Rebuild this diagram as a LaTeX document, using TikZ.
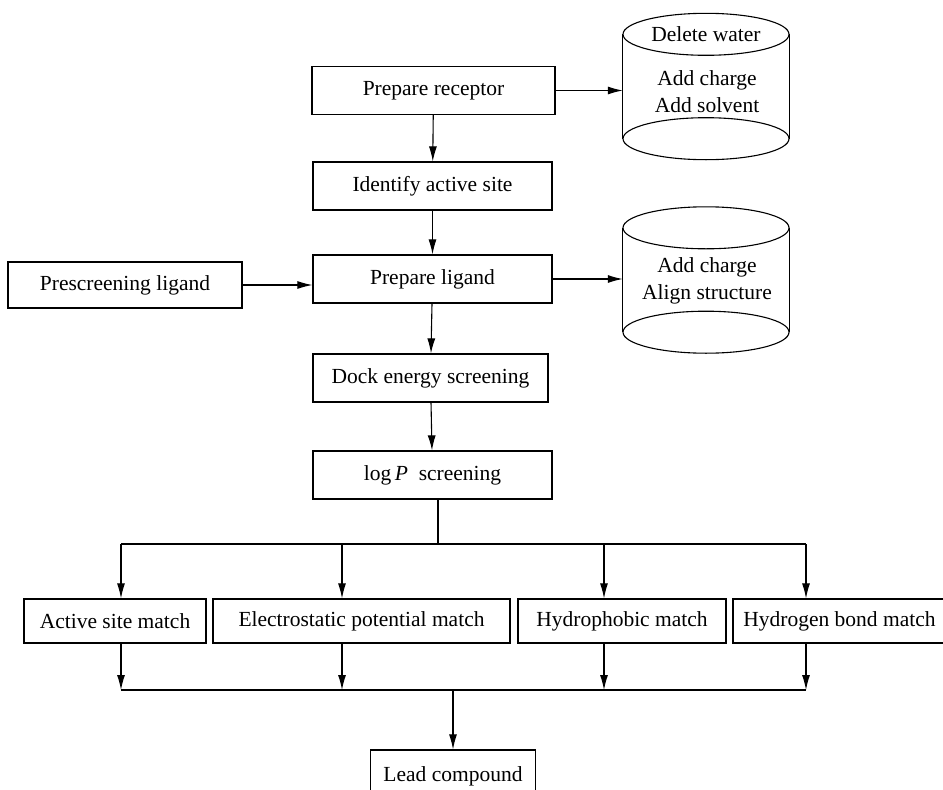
\documentclass[tikz,border=0pt]{standalone}
\usepackage{fontspec}
\setmainfont{Liberation Serif}
\usetikzlibrary{arrows.meta}
\begin{document}
\begin{tikzpicture}[x=1pt, y=-1pt,
      box/.style={draw, line width=1.2pt, minimum height=48pt, inner sep=4pt, font=\fontsize{21.5}{26}\selectfont},
      dbtxt/.style={align=center, inner sep=0pt, font=\fontsize{21.5}{27}\selectfont},
      flow/.style={line width=1.1pt, -{Latex[length=15pt, width=8pt]}},
      line/.style={line width=1.1pt}
    ]
    \useasboundingbox (0,0) rectangle (943,790);
    \clip (0,0) rectangle (943,790);
    \node[box, minimum width=243pt] (rec) at (433.5,90.5) {Prepare receptor};
    \node[box, minimum width=239pt] (site) at (432.5,186) {Identify active site};
    \node[box, minimum width=239pt] (lig) at (432.5,279) {Prepare ligand};
    \node[box, minimum width=234pt, minimum height=46pt] (pre) at (125,285) {Prescreening ligand};
    \node[box, minimum width=235pt] (dock) at (430.5,378) {Dock energy screening};
    \node[box, minimum width=239pt] (logp) at (432.5,475) {log\,\textit{P}~~screening};
    \foreach \k/\x/\w/\txt in {1/115/182/Active site match,2/361.5/297/Electrostatic potential match,3/622/208/Hydrophobic match,4/839.5/213/Hydrogen bond match} {
      \node[box, minimum width=\w pt, minimum height=44pt] (m\k) at (\x,621) {\txt};
    }
    \node[box, minimum width=165pt, minimum height=52pt] (lead) at (453,776) {Lead compound};
    \foreach \db/\y in {db1/86.5,db2/280} {
      \node[minimum width=166pt, minimum height=104pt, inner sep=0pt] (\db) at (706,\y) {};
      \draw[line] (\db.north west) -- (\db.south west) (\db.north east) -- (\db.south east);
      \draw[line] (\db.north) ellipse [x radius=83pt, y radius=21pt];
      \draw[line] (\db.south) ellipse [x radius=83pt, y radius=21pt];
    }
    \node[dbtxt] (dbdel) at (db1.north) {Delete water};
    \node[dbtxt] (dbrec) at (707,92) {Add charge\\Add solvent};
    \node[dbtxt] (dblig) at (707,281) {Add charge\\Align structure};
    \draw[flow] (rec) -- (rec -| db1.west);
    \draw[flow] (rec) -- (site);
    \draw[flow] (site) -- (lig);
    \draw[flow] (pre.east) -- (pre.east -| lig.west);
    \draw[flow] (lig) -- (lig -| db2.west);
    \draw[flow] (lig) -- (dock);
    \draw[flow] (dock) -- (logp);
    \coordinate (split) at (438,544);
    \coordinate (join) at (lead.north |- 0,690);
    \draw[line] (logp.south -| split) -- (split);
    \foreach \k/\x in {1/121,2/342,3/604,4/806} {
      \coordinate (t\k) at (\x,544);
      \coordinate (b\k) at (\x,690);
      \draw[flow] (t\k) -- (t\k |- m\k.north);
      \draw[flow] (t\k |- m\k.south) -- (b\k);
    }
    \draw[line] (t1) -- (t4);
    \draw[line] (b1) -- (b4);
    \draw[flow] (join) -- (lead);
  \end{tikzpicture}
\end{document}
